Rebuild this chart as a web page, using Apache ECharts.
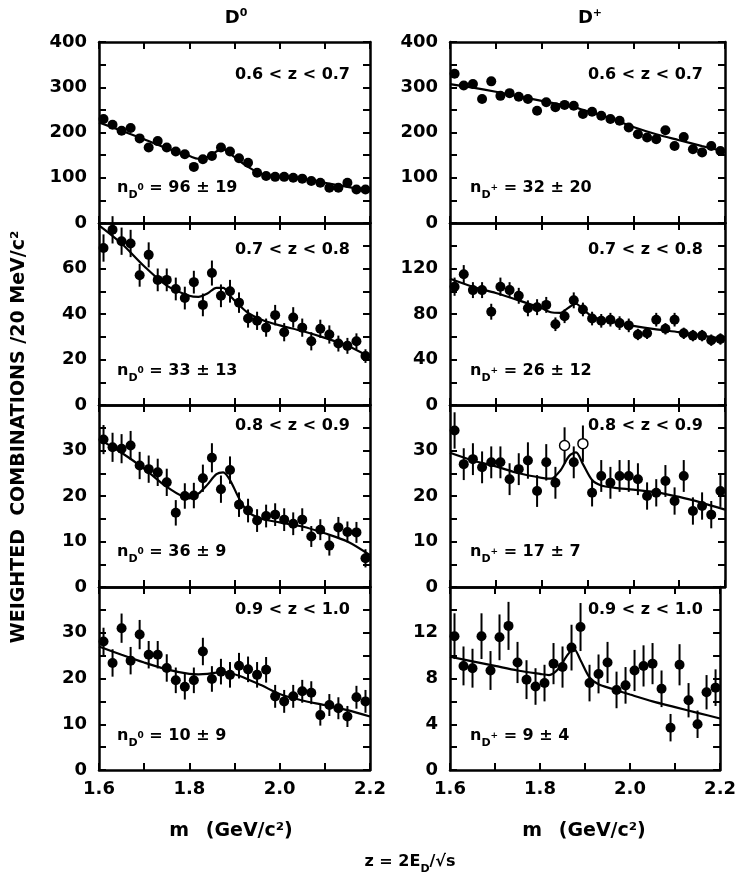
<!DOCTYPE html>
<html>
<head>
<meta charset="utf-8">
<script src="https://cdn.jsdelivr.net/npm/echarts@6/dist/echarts.min.js"></script>
<style>
html, body { margin: 0; padding: 0; background: #fff; }
#chart { width: 739px; height: 875px; }
</style>
</head>
<body>
<div id="chart"></div>
<script>
var FONT = '"DejaVu Sans", sans-serif';

// 20 MeV bins, 1.6 - 2.2 GeV/c2
var massBins = [1.61, 1.63, 1.65, 1.67, 1.69, 1.71, 1.73, 1.75, 1.77, 1.79,
                1.81, 1.83, 1.85, 1.87, 1.89, 1.91, 1.93, 1.95, 1.97, 1.99,
                2.01, 2.03, 2.05, 2.07, 2.09, 2.11, 2.13, 2.15, 2.17, 2.19];

// D0 panels
var d0z1 = [230, 217, 204, 210, 187, 167, 181, 167, 158, 152, 124, 141, 148, 167, 158, 143, 133, 111, 104, 102, 102, 100, 98, 93, 89, 78, 78, 89, 74, 74];
var d0z1Err = [9, 9, 9, 9, 9, 9, 9, 9, 8, 8, 8, 8, 8, 8, 8, 8, 8, 7, 7, 7, 7, 7, 7, 7, 7, 6, 6, 7, 6, 6];
var d0z2 = [69, 77, 72, 71, 57, 66, 55, 55, 51, 47, 54, 44, 58, 48, 50, 45, 38, 37, 34, 39.5, 32, 38.5, 34, 28, 33.5, 31, 27, 26, 28, 21.5];
var d0z2Err = [6, 6, 6, 6, 5, 5.5, 5, 5, 5, 5, 5, 5, 5.5, 5, 5, 4.5, 4, 4, 4, 4.5, 4, 4.5, 4, 4, 4, 4, 3.5, 3.5, 3.5, 3];
var d0z3 = [32.4, 30.7, 30.4, 31.1, 26.7, 25.9, 25.2, 23, 16.3, 20, 20.1, 23.9, 28.4, 21.5, 25.7, 18.1, 16.8, 14.6, 15.6, 15.9, 14.8, 13.9, 14.8, 11.1, 12.6, 9.1, 13.1, 12.1, 12, 6.3];
var d0z3Err = [3.2, 3.2, 3.2, 3.2, 3, 3, 3, 3, 2.8, 2.8, 2.8, 3, 3.2, 3, 3, 2.7, 2.6, 2.5, 2.5, 2.5, 2.5, 2.5, 2.5, 2.3, 2.3, 2.2, 2.3, 2.3, 2.3, 2];
var d0z4 = [28.1, 23.4, 31, 23.9, 29.6, 25.2, 25.2, 22.3, 19.6, 18.2, 19.6, 25.9, 19.9, 21.5, 20.8, 22.8, 22, 20.8, 21.9, 16.1, 15, 16.1, 17.2, 16.9, 12, 14.2, 13.5, 11.7, 15.9, 15];
var d0z4Err = [3, 3, 3.2, 3, 3.2, 3, 3, 3, 2.8, 2.8, 2.8, 3, 2.8, 2.8, 2.8, 2.8, 2.8, 2.8, 2.8, 2.5, 2.5, 2.5, 2.5, 2.5, 2.3, 2.4, 2.4, 2.3, 2.5, 2.5];

// D+ panels
var dpz1 = [330, 304, 307, 274, 313, 281, 287, 279, 274, 248, 267, 256, 261, 259, 241, 246, 237, 230, 226, 211, 196, 189, 185, 205, 170, 190, 163, 156, 170, 159];
var dpz1Err = [9, 9, 9, 9, 9, 9, 9, 9, 9, 8, 8, 8, 8, 8, 8, 8, 8, 8, 8, 8, 8, 8, 8, 8, 7, 8, 7, 7, 7, 7];
var dpz2 = [104, 115, 101, 101, 82, 104, 101, 96, 85, 86, 88, 71, 78, 92, 84, 76, 74, 75, 72, 70, 62, 63, 75, 67, 75, 63, 61, 61, 57, 58];
var dpz2Err = [8, 8, 7, 7, 7, 8, 7, 7, 7, 7, 7, 6, 6, 7, 6, 6, 6, 6, 6, 6, 5, 5, 6, 5, 6, 5, 5, 5, 5, 5];
var dpz3 = [34.4, 27, 28.1, 26.3, 27.4, 27.4, 23.7, 25.9, 27.8, 21.1, 27.4, 22.9, 31.1, 27.4, 31.5, 20.7, 24.4, 22.9, 24.4, 24.4, 23.7, 20, 20.7, 23.3, 18.9, 24.4, 16.7, 17.8, 15.9, 21.1];
var dpz3Err = [4, 3.5, 3.5, 3.5, 3.5, 3.5, 3.5, 3.5, 4, 3.5, 4, 3.5, 4, 3.5, 4, 3, 3.5, 3.5, 3.5, 3.5, 3.5, 3, 3, 3.5, 3, 3.5, 3, 3, 3, 3.5];
var dpz3Open = [12, 14];
var dpz4 = [11.7, 9.1, 8.9, 11.7, 8.7, 11.6, 12.6, 9.4, 7.9, 7.3, 7.6, 9.3, 9.0, 10.7, 12.5, 7.6, 8.4, 9.4, 7.0, 7.4, 8.7, 9.1, 9.3, 7.1, 3.7, 9.2, 6.1, 4.0, 6.8, 7.2];
var dpz4Err = [2, 1.7, 1.7, 2, 1.7, 2, 2.1, 1.8, 1.7, 1.6, 1.6, 1.8, 1.8, 2, 2.1, 1.6, 1.7, 1.8, 1.6, 1.6, 1.8, 1.8, 1.8, 1.6, 1.2, 1.8, 1.5, 1.2, 1.5, 1.6];

// fitted curves (background + signal)
var fitMass = [1.60, 1.65, 1.70, 1.75, 1.80, 1.82, 1.84, 1.86, 1.875, 1.89, 1.91, 1.93, 1.96, 2.00, 2.05, 2.10, 2.15, 2.20];
var fitD0z1 = [222, 204, 185, 165, 148, 142, 146, 158, 164, 153, 138, 124, 108, 102, 97, 89, 80, 71];
var fitD0z2 = [79, 71, 61, 52.5, 48, 47.5, 49, 51.5, 51.5, 48, 44, 40.5, 37.5, 35, 32.5, 29.5, 26, 21];
var fitD0z3 = [32.5, 29.5, 26, 22, 19.5, 20.5, 22.5, 24.8, 25.2, 23.5, 19.5, 16.5, 15, 14.2, 13.3, 11.8, 10, 7];
var fitD0z4 = [27, 25.2, 23.5, 22, 21, 20.9, 21, 21.3, 21.4, 21.2, 20.6, 19.8, 18.5, 16.6, 15.2, 14.2, 13.1, 11.7];
var fitDpz1 = [307, 299, 290, 280, 270, 266, 262, 258, 255, 250, 244, 238, 228, 212, 196, 183, 170, 158];
var fitDpz2 = [111, 104, 98.5, 92, 85, 81.5, 81, 86, 89, 84, 78, 75, 72.5, 69.5, 66.5, 64, 61, 58];
var fitDpz3 = [29.5, 27.8, 26.5, 25, 24, 23.8, 25.5, 28.8, 29.6, 27, 23.5, 22.3, 21.8, 21.4, 20.8, 19.8, 18.5, 17];
var fitDpz4 = [9.9, 9.5, 9.1, 8.7, 8.4, 8.3, 8.8, 10, 10.6, 9.6, 8.1, 7.5, 7.1, 6.6, 6.0, 5.5, 5.0, 4.5];

// axis scales
var yMaxD0 = [400, 80, 40, 40];
var yMaxDp = [400, 160, 40, 16];
var yTickD0 = [50, 10, 5, 5];
var yTickDp = [50, 20, 5, 2];
var yLabelD0 = [100, 20, 10, 10];
var yLabelDp = [100, 40, 10, 4];

// texts
var zRanges = ['0.6 < z < 0.7', '0.7 < z < 0.8', '0.8 < z < 0.9', '0.9 < z < 1.0'];
var yieldsD0 = ['96 ± 19', '33 ± 13', '36 ± 9', '10 ± 9'];
var yieldsDp = ['32 ± 20', '26 ± 12', '17 ± 7', '9 ± 4'];

var panels = [
  { col: 0, row: 0, y: d0z1, e: d0z1Err, fit: fitD0z1, max: yMaxD0[0], tick: yTickD0[0], lab: yLabelD0[0] },
  { col: 0, row: 1, y: d0z2, e: d0z2Err, fit: fitD0z2, max: yMaxD0[1], tick: yTickD0[1], lab: yLabelD0[1] },
  { col: 0, row: 2, y: d0z3, e: d0z3Err, fit: fitD0z3, max: yMaxD0[2], tick: yTickD0[2], lab: yLabelD0[2] },
  { col: 0, row: 3, y: d0z4, e: d0z4Err, fit: fitD0z4, max: yMaxD0[3], tick: yTickD0[3], lab: yLabelD0[3] },
  { col: 1, row: 0, y: dpz1, e: dpz1Err, fit: fitDpz1, max: yMaxDp[0], tick: yTickDp[0], lab: yLabelDp[0] },
  { col: 1, row: 1, y: dpz2, e: dpz2Err, fit: fitDpz2, max: yMaxDp[1], tick: yTickDp[1], lab: yLabelDp[1] },
  { col: 1, row: 2, y: dpz3, e: dpz3Err, fit: fitDpz3, max: yMaxDp[2], tick: yTickDp[2], lab: yLabelDp[2], open: dpz3Open },
  { col: 1, row: 3, y: dpz4, e: dpz4Err, fit: fitDpz4, max: yMaxDp[3], tick: yTickDp[3], lab: yLabelDp[3] }
];

var colLeft = [99, 450], colWidth = [271, 275];
var rowTop = [42, 223, 405, 587], rowHeight = [181, 182, 182, 183];

var lineStyle = { color: '#000', width: 2.5 };
var tickStyle = { show: true, inside: true, length: 7, lineStyle: { color: '#000', width: 2 } };
var labelFont = { color: '#000', fontFamily: FONT, fontWeight: 'bold', fontSize: 18 };

function errorBar(params, api) {
  var x = api.value(0), y = api.value(1), e = api.value(2);
  var a = api.coord([x, y + e]);
  var b = api.coord([x, y - e]);
  return {
    type: 'line',
    shape: { x1: a[0], y1: a[1], x2: b[0], y2: b[1] },
    style: { stroke: '#000', lineWidth: 2 }
  };
}

var grids = [], xAxes = [], yAxes = [], series = [];

panels.forEach(function (p, i) {
  grids.push({ left: colLeft[p.col], width: colWidth[p.col], top: rowTop[p.row], height: rowHeight[p.row] });

  ['bottom', 'top'].forEach(function (pos) {
    xAxes.push({
      gridIndex: i, type: 'value', min: 1.6, max: 2.2, interval: 0.1, position: pos,
      axisLine: { show: true, onZero: false, lineStyle: lineStyle },
      axisTick: tickStyle,
      splitLine: { show: false },
      axisLabel: Object.assign({
        show: pos === 'bottom' && p.row === 3,
        margin: 10,
        formatter: function (v) { return Math.round(v * 10) % 2 === 0 ? v.toFixed(1) : ''; }
      }, labelFont)
    });
  });

  ['left', 'right'].forEach(function (pos) {
    yAxes.push({
      gridIndex: i, type: 'value', min: 0, max: p.max, interval: p.tick, position: pos,
      axisLine: { show: true, onZero: false, lineStyle: lineStyle },
      axisTick: tickStyle,
      splitLine: { show: false },
      axisLabel: Object.assign({
        show: pos === 'left',
        margin: 12,
        showMaxLabel: p.row === 0,
        formatter: function (v) {
          var r = v / p.lab;
          return Math.abs(r - Math.round(r)) < 1e-6 ? String(v) : '';
        }
      }, labelFont)
    });
  });

  var fitData = fitMass.map(function (m, k) { return [m, p.fit[k]]; });
  var pts = massBins.map(function (m, k) { return [m, p.y[k], p.e[k]]; });

  series.push({
    type: 'line', xAxisIndex: 2 * i, yAxisIndex: 2 * i, data: fitData,
    smooth: 0.3, showSymbol: false, silent: true, z: 2,
    lineStyle: { color: '#000', width: 2.2 }
  });
  series.push({
    type: 'custom', xAxisIndex: 2 * i, yAxisIndex: 2 * i, data: pts,
    encode: { x: 0, y: 1 }, renderItem: errorBar, silent: true, z: 3
  });
  series.push({
    type: 'scatter', xAxisIndex: 2 * i, yAxisIndex: 2 * i, z: 4,
    symbol: 'circle', symbolSize: 10, silent: true,
    data: pts.map(function (d, k) {
      if (p.open && p.open.indexOf(k) >= 0) {
        return { value: d, itemStyle: { color: '#fff', borderColor: '#000', borderWidth: 1.5 } };
      }
      return { value: d };
    }),
    itemStyle: { color: '#000', opacity: 1 }
  });
});

var rich = {
  t: { fontSize: 16, fontWeight: 'bold', fontFamily: FONT, lineHeight: 26, verticalAlign: 'middle', fill: '#000' },
  s: { fontSize: 11, fontWeight: 'bold', fontFamily: FONT, lineHeight: 26, verticalAlign: 'bottom', fill: '#000' },
  p: { fontSize: 9, fontWeight: 'bold', fontFamily: FONT, lineHeight: 26, verticalAlign: 'middle', fill: '#000' },
  T: { fontSize: 18, fontWeight: 'bold', fontFamily: FONT, lineHeight: 20, verticalAlign: 'middle', fill: '#000' },
  P: { fontSize: 11, fontWeight: 'bold', fontFamily: FONT, lineHeight: 20, verticalAlign: 'top', fill: '#000' },
  Y: { fontSize: 19, fontWeight: 'bold', fontFamily: FONT, lineHeight: 24, verticalAlign: 'middle', fill: '#000' }
};

function txt(x, y, text, align, extra) {
  return Object.assign({
    type: 'text', x: x, y: y, silent: true,
    style: { text: text, rich: rich, align: align, verticalAlign: 'middle', fill: '#000' }
  }, extra || {});
}

var graphics = [];
graphics.push(txt(236, 18, '{T|D}{P|0}', 'center'));
graphics.push(txt(590, 18, '{T|D}{P|+}', 'center'));
var rangeY = [75, 250, 426, 610];
var yieldY = [188, 371, 552, 736];
zRanges.forEach(function (r, k) {
  graphics.push(txt(350, rangeY[k], '{t|' + r + '}', 'right'));
  graphics.push(txt(703, rangeY[k], '{t|' + r + '}', 'right'));
  graphics.push(txt(117, yieldY[k], '{t|n}{s|D}{p|0}{t| = ' + yieldsD0[k] + '}', 'left'));
  graphics.push(txt(470, yieldY[k], '{t|n}{s|D}{p|+}{t| = ' + yieldsDp[k] + '}', 'left'));
});
graphics.push(txt(231, 831, '{Y|m}{t|   }{Y|(GeV/c²)}', 'center'));
graphics.push(txt(584, 831, '{Y|m}{t|   }{Y|(GeV/c²)}', 'center'));
graphics.push(txt(410, 862, '{t|z = 2E}{s|D}{t|/√s}', 'center'));
graphics.push(txt(19, 437, '{Y|WEIGHTED  COMBINATIONS /20 MeV/c²}', 'center', { rotation: Math.PI / 2 }));

var myChart = echarts.init(document.getElementById('chart'));
myChart.setOption({
  backgroundColor: '#fff',
  animation: false,
  grid: grids,
  xAxis: xAxes,
  yAxis: yAxes,
  series: series,
  graphic: graphics
});
</script>
</body>
</html>
